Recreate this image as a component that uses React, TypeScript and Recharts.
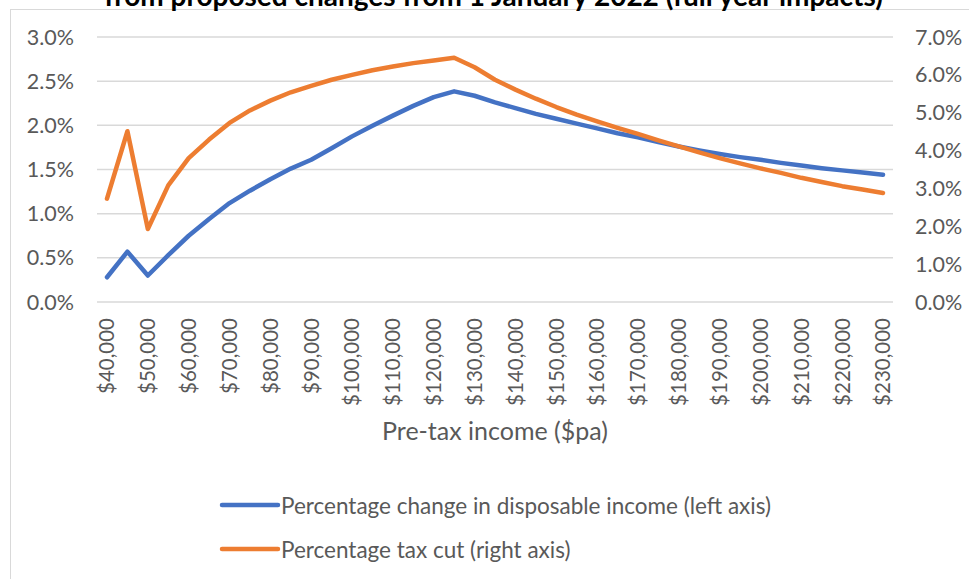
import React from 'react'
import { ComposedChart, Line, XAxis, YAxis, CartesianGrid, Legend } from 'recharts'

const incomes = [
  40000, 45000, 50000, 55000, 60000, 65000, 70000, 75000, 80000, 85000,
  90000, 95000, 100000, 105000, 110000, 115000, 120000, 125000, 130000, 135000,
  140000, 145000, 150000, 155000, 160000, 165000, 170000, 175000, 180000, 185000,
  190000, 195000, 200000, 205000, 210000, 215000, 220000, 225000, 230000,
]

// % change in disposable income (left axis)
const disposableChange = [
  0.28, 0.57, 0.3, 0.53, 0.75, 0.94, 1.12, 1.26, 1.39, 1.51,
  1.61, 1.74, 1.875, 1.995, 2.11, 2.22, 2.32, 2.385, 2.335, 2.26,
  2.195, 2.13, 2.075, 2.02, 1.965, 1.91, 1.865, 1.81, 1.76, 1.715,
  1.675, 1.64, 1.61, 1.575, 1.545, 1.515, 1.49, 1.465, 1.44,
]

// % tax cut (right axis)
const taxCut = [
  2.73, 4.51, 1.93, 3.08, 3.8, 4.29, 4.73, 5.06, 5.32, 5.54,
  5.71, 5.87, 6.0, 6.12, 6.22, 6.31, 6.38, 6.45, 6.2, 5.87,
  5.61, 5.37, 5.15, 4.95, 4.77, 4.6, 4.44, 4.27, 4.11, 3.95,
  3.8, 3.66, 3.53, 3.41, 3.28, 3.17, 3.06, 2.97, 2.88,
]

const leftTicks = [0, 0.5, 1, 1.5, 2, 2.5, 3]
const rightTicks = [0, 1, 2, 3, 4, 5, 6, 7]

const data = incomes.map((income, i) => ({
  income,
  disposable: disposableChange[i],
  tax: taxCut[i],
}))

const FONT = 'Lato, "Open Sans", sans-serif'
const GREY = '#595959'

const pct = (v: number) => `${v.toFixed(1)}%`
const dollars = (v: number) => `$${v.toLocaleString('en-US')}`

function IncomeTick({ x, y, payload }: any) {
  return (
    <text
      x={x}
      y={y}
      dy="0.36em"
      transform={`rotate(-90, ${x}, ${y})`}
      textAnchor="end"
      fill={GREY}
      fontSize={20.5}
      fontFamily={FONT}
    >
      {dollars(payload.value)}
    </text>
  )
}

function LegendBox({ payload }: any) {
  return (
    <div style={{ fontFamily: FONT, fontSize: 22.5, color: GREY }}>
      {(payload || []).map((p: any) => (
        <div key={p.value} style={{ display: 'flex', alignItems: 'center', height: 44 }}>
          <svg width={62} height={10} style={{ display: 'block' }}>
            <line x1={3} y1={5} x2={59} y2={5} stroke={p.color} strokeWidth={4.5} strokeLinecap="round" />
          </svg>
          <span>{p.value}</span>
        </div>
      ))}
    </div>
  )
}

export default function App() {
  return (
    <div style={{ position: 'absolute', left: 0, top: 0, width: 969, height: 579, overflow: 'hidden', background: '#fff' }}>
      <div
        style={{
          position: 'absolute',
          left: 10,
          top: 9,
          width: 1000,
          height: 600,
          border: '1.5px solid #d9d9d9',
        }}
      />
      <div
        style={{
          position: 'absolute',
          left: 0,
          width: 987,
          top: -19,
          textAlign: 'center',
          fontFamily: FONT,
          fontWeight: 700,
          fontSize: 28,
          lineHeight: '28px',
          color: '#000',
          whiteSpace: 'nowrap',
        }}
      >
        from proposed changes from 1 January 2022 (full year impacts)
      </div>
      <div style={{ position: 'absolute', left: 0, top: 0 }}>
        <ComposedChart width={969} height={579} data={data} margin={{ top: 37, right: 0, bottom: 0, left: 0 }}>
          <CartesianGrid yAxisId="left" vertical={false} stroke="#d9d9d9" strokeWidth={1.5} />
          <XAxis
            dataKey="income"
            interval={1}
            height={277}
            padding={{ left: 10, right: 10 }}
            axisLine={false}
            tickLine={false}
            tickSize={0}
            tickMargin={16}
            tick={<IncomeTick />}
            label={{
              value: 'Pre-tax income ($pa)',
              position: 'insideBottom',
              offset: 139,
              fill: GREY,
              fontSize: 25,
              fontFamily: FONT,
            }}
          />
          <YAxis
            yAxisId="left"
            width={97}
            domain={[0, 3]}
            ticks={leftTicks}
            tickFormatter={pct}
            axisLine={false}
            tickLine={false}
            tickSize={0}
            tickMargin={23}
            tick={{ fill: GREY, fontSize: 21.5, fontFamily: FONT }}
          />
          <YAxis
            yAxisId="right"
            orientation="right"
            width={76}
            domain={[0, 7]}
            ticks={rightTicks}
            tickFormatter={pct}
            axisLine={false}
            tickLine={false}
            tickSize={0}
            tickMargin={22}
            tick={{ fill: GREY, fontSize: 21.5, fontFamily: FONT, textAnchor: 'start' }}
          />
          <Legend
            layout="vertical"
            align="center"
            verticalAlign="middle"
            content={<LegendBox />}
            wrapperStyle={{ top: 483, left: 219, width: 'auto' }}
          />
          <Line
            yAxisId="left"
            dataKey="disposable"
            name="Percentage change in disposable income (left axis)"
            stroke="#4472C4"
            strokeWidth={4.5}
            strokeLinejoin="round"
            strokeLinecap="round"
            dot={false}
            type="linear"
            isAnimationActive={false}
          />
          <Line
            yAxisId="right"
            dataKey="tax"
            name="Percentage tax cut (right axis)"
            stroke="#ED7D31"
            strokeWidth={4.5}
            strokeLinejoin="round"
            strokeLinecap="round"
            dot={false}
            type="linear"
            isAnimationActive={false}
          />
        </ComposedChart>
      </div>
    </div>
  )
}
